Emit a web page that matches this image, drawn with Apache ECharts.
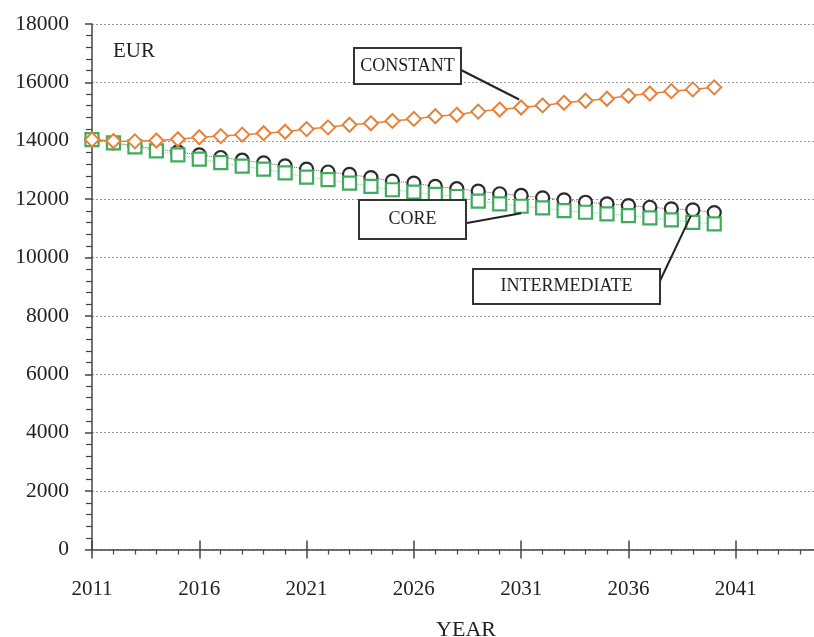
<!DOCTYPE html>
<html>
<head>
<meta charset="utf-8">
<script src="https://cdn.jsdelivr.net/npm/echarts@6/dist/echarts.min.js"></script>
<style>
html,body{margin:0;padding:0;background:#fff;}
#chart{width:814px;height:637px;}
</style>
</head>
<body>
<div id="chart"></div>
<script>
var years = [2011,2012,2013,2014,2015,2016,2017,2018,2019,2020,2021,2022,2023,2024,2025,2026,2027,2028,2029,2030,2031,2032,2033,2034,2035,2036,2037,2038,2039,2040];
var constantValues = [14040,13990,13980,14010,14050,14120,14160,14210,14260,14310,14400,14460,14550,14600,14680,14750,14840,14890,15000,15070,15140,15210,15300,15370,15440,15540,15620,15700,15760,15830];
var coreValues = [14040,13930,13820,13720,13620,13517,13427,13334,13241,13140,13030,12930,12851,12737,12620,12551,12437,12358,12275,12185,12127,12047,11978,11895,11840,11782,11723,11668,11633,11540];
var intermediateValues = [14040,13931,13793,13655,13517,13370,13250,13130,13030,12900,12758,12668,12551,12437,12323,12240,12161,12092,11930,11840,11758,11703,11610,11551,11496,11438,11358,11289,11206,11151];
var yTicks = {min: 0, max: 18000, step: 2000};
var xTicks = {min: 2011, max: 2046, step: 5};

function pairs(vals){ return years.map(function(y,i){ return [y, vals[i]]; }); }

var serif = '"Liberation Serif", "DejaVu Serif", serif';
var chart = echarts.init(document.getElementById('chart'), null, {renderer:'canvas'});
var axisColor = '#444';
var option = {
  animation: false,
  backgroundColor: '#fff',
  grid: {left: 92, right: -29, top: 24, bottom: 87.5, containLabel: false, outerBoundsMode: 'none'},
  xAxis: [{
    type: 'value', min: xTicks.min, max: xTicks.max, interval: xTicks.step,
    axisLine: {show: true, onZero: false, lineStyle: {color: axisColor, width: 1.5}},
    axisTick: {show: true, length: 9, lineStyle: {color: axisColor, width: 1.5}},
    minorTick: {show: true, splitNumber: 5, length: 5, lineStyle: {color: axisColor, width: 1.2}},
    axisLabel: {margin: 29, fontFamily: serif, fontSize: 21, color: '#222', hideOverlap: false, formatter: function(v){ return String(v); }},
    splitLine: {show: false}
  },{
    type: 'value', min: xTicks.min, max: xTicks.max, interval: xTicks.step, position: 'bottom',
    axisLine: {show: false, onZero: false},
    axisTick: {show: true, inside: true, length: 9, lineStyle: {color: axisColor, width: 1.5}},
    axisLabel: {show: false},
    splitLine: {show: false}
  }],
  yAxis: {
    type: 'value', min: yTicks.min, max: yTicks.max, interval: yTicks.step,
    axisLine: {show: true, lineStyle: {color: axisColor, width: 1.5}},
    axisTick: {show: true, length: 7, lineStyle: {color: axisColor, width: 1.5}},
    minorTick: {show: true, splitNumber: 5, length: 6, lineStyle: {color: axisColor, width: 1.2}},
    axisLabel: {margin: 23, fontFamily: serif, fontSize: 21.5, color: '#222', formatter: function(v){ return String(v); }},
    splitLine: {show: true, lineStyle: {color: '#9a9a9a', type: [2,2], width: 1}}
  },
  series: [{
    name: 'CORE', type: 'line', data: pairs(coreValues), xAxisIndex: 0,
    symbol: 'circle', symbolSize: 13,
    itemStyle: {color: '#fff', borderColor: '#2b2b2b', borderWidth: 2.2},
    lineStyle: {color: '#666', width: 1, type: 'dotted'}, z: 2
  },{
    name: 'INTERMEDIATE', type: 'line', data: pairs(intermediateValues), xAxisIndex: 0,
    symbol: 'rect', symbolSize: 13,
    itemStyle: {color: '#fff', borderColor: '#3fab5c', borderWidth: 2.2},
    lineStyle: {color: '#8fcf9f', width: 1, type: 'dotted'}, z: 3
  },{
    name: 'CONSTANT', type: 'line', data: pairs(constantValues), xAxisIndex: 0,
    symbol: 'diamond', symbolSize: 14,
    itemStyle: {color: '#fff', borderColor: '#e5823a', borderWidth: 2},
    lineStyle: {color: '#e5823a', width: 1.5}, z: 4
  }]
};
chart.setOption(option);

function px(year, val){ return chart.convertToPixel({xAxisIndex:0, yAxisIndex:0}, [year, val]); }
function box(x, y, w, h, label){
  return {type:'group', children:[
    {type:'rect', shape:{x:x, y:y, width:w, height:h}, style:{fill:'#fff', stroke:'#333', lineWidth:2}, z:10},
    {type:'text', x:x + w/2, y:y + h/2, style:{text:label, font:'18px ' + serif, fill:'#222', align:'center', verticalAlign:'middle'}, z:11}
  ]};
}
var pConst = px(years[20], constantValues[20]);
var pCore = px(years[20], intermediateValues[20]);
var pInter = px(years[28], coreValues[28]);
chart.setOption({graphic: [
  {type:'line', shape:{x1:461, y1:70, x2:pConst[0]-2, y2:pConst[1]-8}, style:{stroke:'#222', lineWidth:2}, z:9},
  {type:'line', shape:{x1:467, y1:223, x2:pCore[0], y2:pCore[1]+7}, style:{stroke:'#222', lineWidth:2}, z:9},
  {type:'line', shape:{x1:659, y1:283, x2:pInter[0]-2, y2:pInter[1]+6}, style:{stroke:'#222', lineWidth:2}, z:9},
  box(354, 48, 107, 36, 'CONSTANT'),
  box(359, 200, 107, 39, 'CORE'),
  box(473, 269, 187, 35, 'INTERMEDIATE'),
  {type:'text', x:113, y:51, style:{text:'EUR', font:'21px ' + serif, fill:'#222', align:'left', verticalAlign:'middle'}, z:11},
  {type:'text', x:466, y:630, style:{text:'YEAR', font:'22px ' + serif, fill:'#222', align:'center', verticalAlign:'middle'}, z:11}
]});
</script>
</body>
</html>
